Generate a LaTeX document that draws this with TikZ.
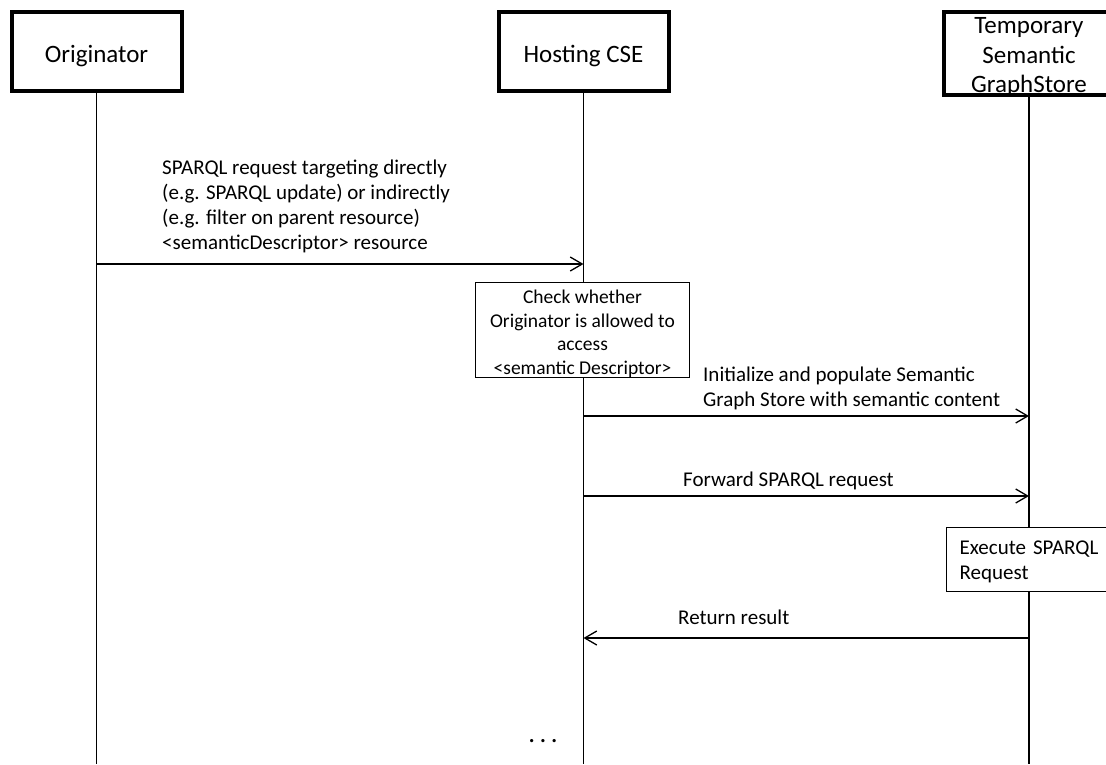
\documentclass[tikz,border=0pt]{standalone}
\usepackage{fontspec}
\setmainfont{Carlito}
\usepackage{tikz}
\usetikzlibrary{arrows.meta}

\begin{document}
\begin{tikzpicture}%
                [x=1pt, y=-1pt,
                actor/.style={draw, line width=4pt, minimum width=170pt, minimum height=79pt, inner sep=0pt, align=center, font=\fontsize{25}{30.5}\selectfont},
                oneline/.style={text height=21pt, text depth=0pt},
                life/.style={line width=1.3pt},
                msg/.style={line width=1.3pt, -{Straight Barb[length=12pt,width=14pt,line width=1.3pt]}},
                msgtext/.style={inner sep=0pt, align=left, font=\fontsize{21}{25}\selectfont},
                action/.style={draw, line width=1.3pt, fill=white, inner sep=0pt}]

            \useasboundingbox (0,0) rectangle (1106,764);
            \clip (0,0) rectangle (1106,764);
            %% Drawing the participants
            \node[actor, oneline] (org) at (96.5,51.5) {Originator};
            \node[actor, oneline] (cse) at (583.5,51.5) {Hosting CSE};
            \node[actor, minimum height=83pt] (tgs) at (1029,53.5) {};
            \node[inner sep=0pt, align=center, font=\fontsize{25}{29.5}\selectfont] (tgs-name) at (1029,57) {Temporary\\Semantic\\GraphStore};
            %% Lifelines
            \coordinate (org-end) at (96.5,764);
            \coordinate (cse-end) at (583.5,764);
            \coordinate (tgs-end) at (1029,764);
            \draw[life] (org.south) -- (org-end);
            \draw[life] (cse.south) -- (cse-end);
            \draw[life] (tgs.south) -- (tgs-end);
            %%
            %% Messages
            %%
            \coordinate (org-1) at (96.5,264);
            \coordinate (cse-1) at (583.5,264);
            \draw[msg] (org-1) -- (cse-1);
            \node[msgtext, anchor=north west] (req) at (162,160) {SPARQL request targeting directly\\(e.g. SPARQL update) or indirectly\\(e.g. filter on parent resource)\\<semanticDescriptor> resource};

            \node[action, minimum width=214pt, minimum height=92pt, align=center, font=\fontsize{19.5}{23.5}\selectfont] (check) at (582.5,330) {\rule{0pt}{21.5pt}Check whether\\Originator is allowed to\\access\\<semantic Descriptor>};

            \coordinate (cse-2) at (583.5,416);
            \coordinate (tgs-2) at (1029,416);
            \draw[msg] (cse-2) -- (tgs-2);
            \node[msgtext, anchor=north west] (init) at (703,367) {Initialize and populate Semantic\\Graph Store with semantic content};

            \coordinate (cse-3) at (583.5,496);
            \coordinate (tgs-3) at (1029,496);
            \draw[msg] (cse-3) -- (tgs-3);
            \node[msgtext, anchor=north west] (fwd) at (683,472) {Forward SPARQL request};

            \node[action, anchor=north west, minimum height=64pt, text width=144pt, inner xsep=13pt, align=left, font=\fontsize{21}{25}\selectfont] (exec) at (946,527) {\rule{0pt}{19pt}Execute SPARQL\\Request};

            \coordinate (tgs-4) at (1029,638);
            \coordinate (cse-4) at (583.5,638);
            \draw[msg] (tgs-4) -- (cse-4);
            \node[msgtext, anchor=north west] (ret) at (678,610) {Return result};

            \node[msgtext, font=\fontsize{27}{30}\selectfont] (more) at (543,741) {.\,.\,.};
            %%
            \end{tikzpicture}
\end{document}
